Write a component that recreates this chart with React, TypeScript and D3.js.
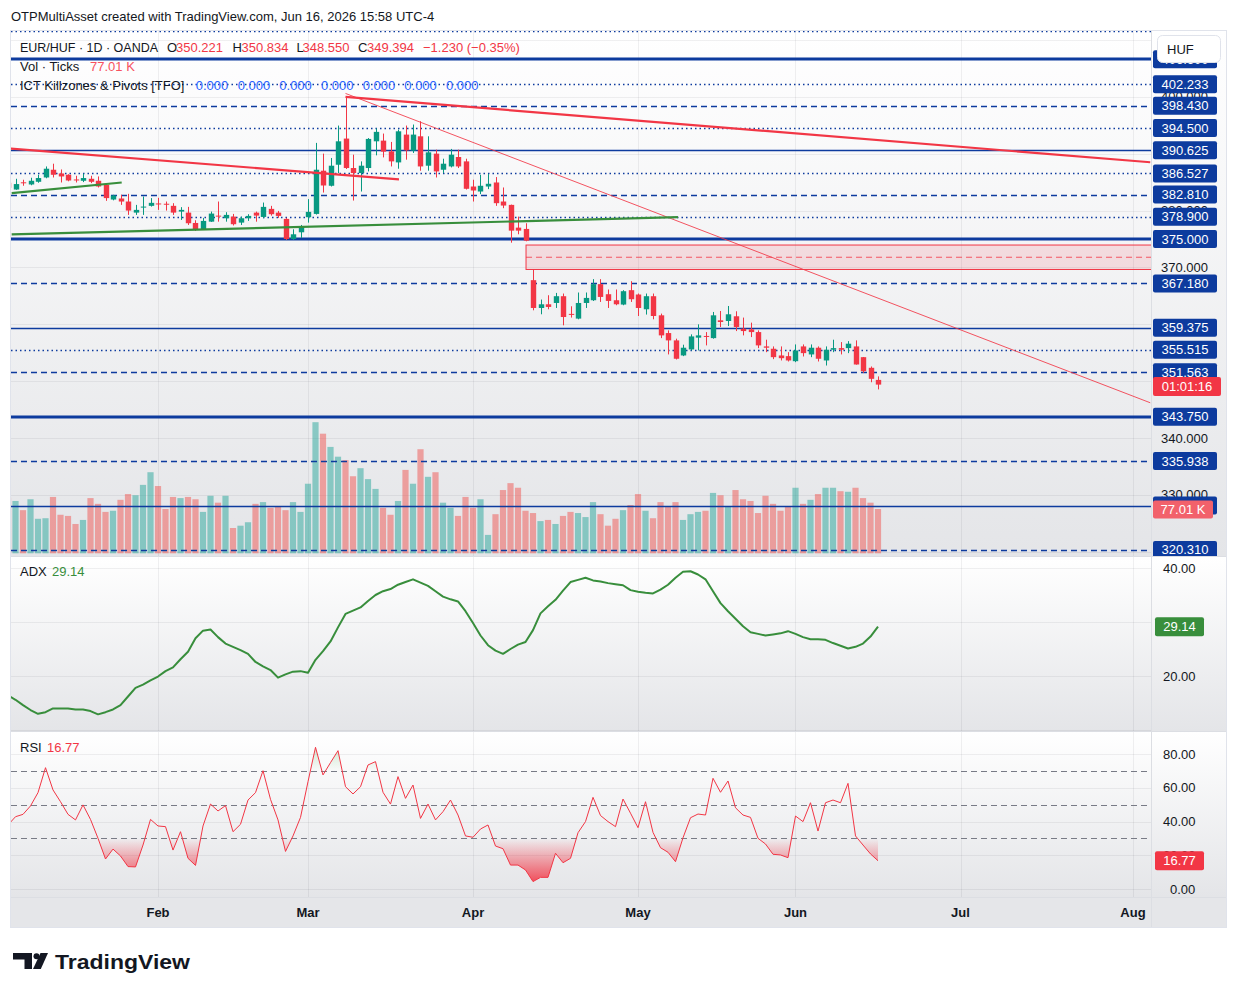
import React from 'react';
import * as d3 from 'd3';

// ---------------- DATA ----------------
const openP = [384.89,383.70,384.97,384.59,385.06,385.82,387.18,386.53,386.30,385.47,385.24,385.59,385.24,384.53,381.94,382.12,381.59,379.64,380.53,380.83,381.25,381.20,380.83,379.82,379.64,377.82,376.64,378.05,379.11,378.65,378.94,377.88,378.65,379.64,378.88,380.30,379.64,378.53,375.00,376.18,378.83,379.41,387.01,384.36,388.06,392.66,387.48,386.60,387.48,392.18,392.30,390.41,388.47,393.36,390.54,393.06,387.89,390.01,387.18,387.76,389.42,388.65,384.23,383.35,384.23,384.94,381.59,381.00,377.00,376.77,367.76,362.87,363.52,363.75,364.94,361.83,361.00,363.75,364.23,367.06,365.29,364.23,363.47,366.00,365.24,362.64,364.94,361.58,358.46,357.17,354.52,355.58,357.65,357.95,357.57,360.70,360.58,361.41,359.23,359.11,358.63,356.11,355.70,354.52,354.40,353.51,356.11,354.70,355.88,353.64,355.53,355.81,355.81,356.11,354.22,352.35,350.221];
const highP = [384.95,385.59,385.42,385.77,386.30,387.76,388.24,387.23,386.39,386.12,386.48,386.12,386.00,384.62,382.77,382.77,382.94,381.00,382.47,382.19,382.24,381.59,381.30,380.60,380.65,378.30,378.71,379.82,381.59,379.71,379.41,378.94,379.36,379.82,381.41,380.83,379.94,378.71,376.71,377.47,382.01,391.90,390.01,389.25,394.95,400.12,389.83,388.65,392.75,394.42,393.54,392.07,394.24,394.95,395.13,395.71,393.06,390.71,389.12,390.84,390.71,389.12,385.42,386.30,386.42,385.89,384.06,381.05,378.94,377.77,369.65,364.35,365.11,365.52,365.41,363.17,365.59,365.59,367.94,367.94,366.12,366.12,366.00,367.58,365.41,365.41,365.41,361.88,358.93,357.47,356.41,358.23,359.99,358.63,362.17,362.34,363.22,362.29,361.18,360.29,358.93,357.29,356.11,356.11,355.10,356.46,356.46,356.46,356.11,356.11,357.29,356.87,357.04,357.17,354.25,352.58,350.834];
const lowP = [383.90,383.65,384.36,384.45,384.89,385.68,385.82,384.94,385.15,384.94,385.01,384.83,384.06,381.71,381.80,381.00,379.24,379.24,379.24,380.70,380.12,380.00,379.24,378.35,377.47,376.41,376.59,378.00,378.05,378.05,377.38,377.47,378.18,378.05,378.65,379.11,378.71,374.82,374.82,375.18,377.88,379.30,383.17,384.23,386.60,387.31,381.76,383.35,386.88,389.71,389.35,387.76,387.36,388.95,390.13,387.01,387.01,385.82,386.60,387.59,387.48,383.70,381.59,382.89,383.77,380.83,380.42,374.35,375.83,374.60,362.46,361.76,362.64,362.87,359.82,361.18,360.88,362.87,364.10,363.93,362.87,363.35,363.35,363.93,361.46,361.71,360.88,357.57,354.70,353.81,354.40,355.40,355.40,356.29,357.47,359.52,359.69,358.81,358.05,357.75,355.81,355.10,353.87,353.64,353.46,353.34,354.34,354.22,353.46,352.75,355.10,354.70,354.93,352.90,351.47,349.81,348.55];
const closeP = [384.00,384.66,384.80,385.24,385.72,387.36,386.30,386.00,385.29,385.36,385.72,385.06,384.23,382.19,382.64,381.59,380.00,380.12,380.70,381.36,381.11,381.05,379.64,380.12,377.77,376.59,378.18,379.47,378.94,379.24,377.60,378.65,379.06,379.11,380.65,379.36,379.06,375.00,375.83,377.12,379.77,387.18,384.41,387.89,392.18,387.48,386.60,387.89,392.60,393.84,390.36,388.65,393.94,390.59,393.36,387.76,390.24,386.88,388.24,389.83,387.76,383.83,383.53,384.36,384.71,381.30,380.88,376.47,376.47,374.70,362.87,363.52,363.05,364.94,361.28,361.69,363.75,364.64,367.06,364.81,364.11,363.52,365.82,364.41,362.87,364.94,361.46,358.05,357.17,353.94,355.88,357.87,358.05,357.80,361.58,360.40,361.76,359.52,358.81,358.63,356.29,355.88,354.22,354.04,353.64,355.40,354.93,355.88,353.94,355.53,355.81,355.53,356.59,352.93,351.75,350.41,349.394];
const volumeK = [97,91,75,94,60,61,98,67,65,51,58,96,86,72,74,93,103,101,119,141,117,77,98,96,98,94,72,100,88,100,44,48,54,86,89,79,81,75,89,72,121,228,208,185,168,162,134,148,129,112,79,67,91,145,121,181,133,141,88,79,65,98,79,94,32,68,110,122,114,74,70,56,58,51,65,72,70,63,89,68,48,60,75,84,103,74,61,89,81,89,58,68,72,74,105,101,81,110,94,91,70,100,86,74,81,114,86,93,103,114,114,108,107,114,96,88,77.01];
const adxValues = [16.4,15.6,14.6,13.7,13.0,13.3,14.0,14.0,14.0,13.8,13.8,13.5,12.9,13.3,13.8,14.6,16.2,17.8,18.4,19.2,19.9,20.9,21.6,23.1,24.5,27.0,28.4,28.6,27.2,26.0,25.4,24.8,24.1,22.6,21.8,21.1,19.7,20.3,20.8,20.9,20.6,23.0,24.6,26.4,29.0,31.5,32.1,32.7,33.9,35.0,35.7,36.1,36.9,37.4,37.9,37.3,36.7,35.7,34.7,34.2,33.8,32.0,29.8,27.5,25.7,24.7,24.1,25.0,25.8,26.3,28.5,31.6,32.9,34.1,35.8,37.4,37.8,38.2,37.7,37.5,37.2,37.0,36.8,35.9,35.6,35.4,35.3,36.0,36.9,38.2,39.3,39.4,38.8,37.9,35.7,33.5,32.0,30.6,29.2,28.1,27.8,27.5,27.7,27.9,28.3,27.8,27.2,26.8,26.8,26.7,26.1,25.6,25.1,25.4,26.0,27.3,29.14];
const rsiValues = [38.0,42.9,44.3,49.3,57.2,72.0,58.8,51.8,44.3,41.0,49.9,41.3,30.1,17.8,23.7,19.6,13.3,13.1,26.1,41.3,37.4,37.0,23.1,34.0,18.2,14.0,37.4,50.4,46.3,49.5,34.0,38.4,52.8,57.2,70.2,53.2,41.0,22.3,31.5,42.5,63.7,84.1,67.7,75.0,82.1,60.7,56.4,60.7,73.6,75.6,57.4,50.4,66.7,53.8,61.7,41.9,50.4,41.0,45.9,52.8,43.9,31.5,30.7,35.6,38.0,25.5,23.9,14.2,14.2,11.3,4.4,6.9,6.9,21.2,15.6,18.2,33.4,40.0,54.4,43.6,40.0,37.0,53.4,45.0,36.4,51.8,33.6,24.5,21.8,16.2,30.4,42.3,44.5,43.9,65.7,57.4,64.1,48.2,43.9,42.5,30.1,26.7,20.6,20.2,18.6,43.3,40.0,51.2,34.4,51.2,52.8,51.2,62.7,31.5,26.1,20.8,16.77];

const monthLabels = ['Feb', 'Mar', 'Apr', 'May', 'Jun', 'Jul', 'Aug'];
const priceTicks = [320, 330, 340, 350, 360, 370, 380, 390, 400, 410];
const adxTicks = [20, 40];
const adxGrid = [10, 20, 30, 40];
const rsiTicks = [0, 20, 40, 60, 80];
const rsiBands = [30, 50, 70];

const pivotLevels = [411.5, 406.6, 402.233, 398.43, 394.5, 390.625, 386.527, 382.81, 378.9, 375, 367.18, 359.375, 355.515, 351.563, 343.75, 335.938, 328.125, 320.31];
const pivotStyles = ['dot', 'thick', 'dot', 'dash', 'dot', 'thin', 'dot', 'dash', 'dot', 'thick', 'dash', 'thin', 'dot', 'dash', 'thick', 'dash', 'thin', 'dash'];
const pivotLabels = [406.6, 402.233, 398.43, 394.5, 390.625, 386.527, 382.81, 378.9, 375, 367.18, 359.375, 355.515, 351.563, 343.75, 335.938, 328.125, 320.31];

// drawings: [barIndex, price]
const redTrendThin = [[45, 400.6], [152.3, 346.2]];
const redTrendThick = [[45, 400.0], [152.3, 388.5]];
const redTrendLeft = [[0.27, 390.9], [52.13, 385.5]];
const greenTrendShort = [[0.49, 383.07], [15.16, 384.94]];
const greenTrendLong = [[0.49, 375.83], [89.33, 378.83]];
const fvgZone = { startIndex: 69.07, top: 373.94, bottom: 369.64 };

const legendOHLC = [['O', '350.221'], ['H', '350.834'], ['L', '348.550'], ['C', '349.394']];

// ---------------- LAYOUT ----------------
const FONT = '"Liberation Sans", Arial, sans-serif';
const L = 11, R = 1151, AX = 1151, RIGHT = 1226;
const mainTop = 31, mainBottom = 556;
const adxTop = 557, adxBottom = 731;
const rsiTop = 732, rsiBottom = 897;
const timeBottom = 927;
const BLUE = '#0d3b9e';
const RED = '#f23645';
const GREEN = '#089981';
const ADXC = '#388e3c';

const sessionDays = d3.timeDay
  .range(new Date(2026, 0, 5), new Date(2026, 8, 1))
  .filter((d) => d.getDay() % 6 !== 0);
const monthTicks = monthLabels.map((lab, k) => ({
  lab,
  idx: sessionDays.findIndex((d) => d.getMonth() === k + 1),
}));

const x = d3.scaleLinear().domain([0, 150]).range([8, 1133]);
const yP = d3.scaleLinear().domain([343.75, 375]).range([416.7, 239]);
const yV = d3.scaleLinear().domain([0, 100]).range([553.3, 553.3 - 57.5]);
const yA = d3.scaleLinear().domain([20, 40]).range([676, 568]);
const yR = d3.scaleLinear().domain([0, 80]).range([889, 754.2]);

const px = (i: number) => Math.round(x(i)) + 0.5;

function PriceLabel({ y, text, fill, x0 = 1153, w = 64, h = 18 }: any) {
  return (
    <g>
      <rect x={x0} y={y - h / 2} width={w} height={h} rx={2} fill={fill} />
      <text x={x0 + w / 2} y={y + 4.5} textAnchor="middle" fill="#ffffff" fontSize={13} fontFamily={FONT}>{text}</text>
    </g>
  );
}

export default function App() {
  const adxLine = d3.line<number>().x((_, i) => x(i)).y((d) => yA(d));
  const rsiLine = d3.line<number>().x((_, i) => x(i)).y((d) => yR(d));
  const rsiLowArea = d3.area<number>().x((_, i) => x(i)).y0(yR(30)).y1((d) => yR(d));
  const rsiHighArea = d3.area<number>().x((_, i) => x(i)).y0(yR(70)).y1((d) => yR(d));
  const seg = (pts: number[][]) => d3.line<number[]>().x((p) => x(p[0])).y((p) => yP(p[1]))(pts) as string;

  const pivotStroke = (s: string) => {
    if (s === 'thick') return { w: 3, dash: undefined };
    if (s === 'thin') return { w: 1.5, dash: undefined };
    if (s === 'dash') return { w: 1.5, dash: '6 4' };
    return { w: 1.5, dash: '1.5 3' };
  };

  const paneBg = (id: string, y0: number, y1: number) => (
    <linearGradient id={id} x1={0} y1={y0} x2={0} y2={y1} gradientUnits="userSpaceOnUse">
      <stop offset="0" stopColor="#ffffff" />
      <stop offset="1" stopColor="#e4e5e8" />
    </linearGradient>
  );

  return (
    <svg width={1237} height={996} style={{ position: 'absolute', left: 0, top: 0, background: '#ffffff' }} fontFamily={FONT}>
      <defs>
        {paneBg('gMain', mainTop, mainBottom)}
        {paneBg('gAdx', adxTop, adxBottom)}
        {paneBg('gRsi', rsiTop, rsiBottom)}
        <linearGradient id="gRsiLow" x1={0} y1={yR(30)} x2={0} y2={yR(0)} gradientUnits="userSpaceOnUse">
          <stop offset="0" stopColor={RED} stopOpacity={0} />
          <stop offset="1" stopColor={RED} stopOpacity={1} />
        </linearGradient>
        <linearGradient id="gRsiHigh" x1={0} y1={yR(70)} x2={0} y2={yR(100)} gradientUnits="userSpaceOnUse">
          <stop offset="0" stopColor="#4caf50" stopOpacity={0} />
          <stop offset="1" stopColor="#4caf50" stopOpacity={0.55} />
        </linearGradient>
        <clipPath id="cMain"><rect x={L} y={mainTop} width={R - L} height={mainBottom - mainTop} /></clipPath>
        <clipPath id="cMainAxis"><rect x={AX} y={mainTop} width={RIGHT - AX} height={mainBottom - mainTop} /></clipPath>
        <clipPath id="cAdx"><rect x={L} y={adxTop} width={R - L} height={adxBottom - adxTop} /></clipPath>
        <clipPath id="cRsi"><rect x={L} y={rsiTop} width={R - L} height={rsiBottom - rsiTop} /></clipPath>
        <clipPath id="cRsiLow"><rect x={L} y={yR(30)} width={R - L} height={rsiBottom - yR(30)} /></clipPath>
        <clipPath id="cRsiHigh"><rect x={L} y={rsiTop} width={R - L} height={yR(70) - rsiTop} /></clipPath>
      </defs>

      {/* caption */}
      <text x={11} y={21} fontSize={13} fill="#131722">OTPMultiAsset created with TradingView.com, Jun 16, 2026 15:58 UTC-4</text>

      {/* pane backgrounds */}
      <rect x={10} y={mainTop} width={RIGHT - 10} height={mainBottom - mainTop} fill="url(#gMain)" />
      <rect x={10} y={adxTop} width={RIGHT - 10} height={adxBottom - adxTop} fill="url(#gAdx)" />
      <rect x={10} y={rsiTop} width={RIGHT - 10} height={rsiBottom - rsiTop} fill="url(#gRsi)" />
      <rect x={10} y={rsiBottom} width={RIGHT - 10} height={timeBottom - rsiBottom} fill="#e5e6e9" />

      {/* grids */}
      <g stroke="rgba(42,46,57,0.07)" strokeWidth={1}>
        {priceTicks.map((v) => (
          <line key={'pg' + v} x1={L} x2={R} y1={Math.round(yP(v)) + 0.5} y2={Math.round(yP(v)) + 0.5} />
        ))}
        {adxGrid.map((v) => (
          <line key={'ag' + v} x1={L} x2={R} y1={Math.round(yA(v)) + 0.5} y2={Math.round(yA(v)) + 0.5} />
        ))}
        {rsiTicks.map((v) => (
          <line key={'rg' + v} x1={L} x2={R} y1={Math.round(yR(v)) + 0.5} y2={Math.round(yR(v)) + 0.5} />
        ))}
        {monthTicks.map((m) => (
          <g key={'vg' + m.lab}>
            <line x1={px(m.idx)} x2={px(m.idx)} y1={mainTop} y2={mainBottom} />
            <line x1={px(m.idx)} x2={px(m.idx)} y1={adxTop} y2={adxBottom} />
            <line x1={px(m.idx)} x2={px(m.idx)} y1={rsiTop} y2={rsiBottom} />
          </g>
        ))}
      </g>

      {/* MAIN PANE */}
      <g clipPath="url(#cMain)">
        {/* volume */}
        {volumeK.map((v, i) => {
          const up = closeP[i] >= openP[i];
          return (
            <rect key={'v' + i} x={x(i) - 3.1} y={yV(v)} width={6.2} height={yV(0) - yV(v)}
              fill={up ? 'rgba(38,166,154,0.5)' : 'rgba(239,83,80,0.5)'} />
          );
        })}
        {/* FVG zone */}
        <rect x={x(fvgZone.startIndex)} y={yP(fvgZone.top)} width={R - x(fvgZone.startIndex) + 5}
          height={yP(fvgZone.bottom) - yP(fvgZone.top)} fill="rgba(242,54,69,0.13)" stroke={RED} strokeWidth={1} />
        <line x1={x(fvgZone.startIndex)} x2={R} y1={yP((fvgZone.top + fvgZone.bottom) / 2)} y2={yP((fvgZone.top + fvgZone.bottom) / 2)}
          stroke={RED} strokeWidth={1} strokeDasharray="6 4" strokeOpacity={0.8} />
        {/* pivot lines */}
        {pivotLevels.map((v, k) => {
          const st = pivotStroke(pivotStyles[k]);
          const yy = Math.round(yP(v)) + (st.w === 3 ? 0 : 0.5);
          return <line key={'pv' + k} x1={L} x2={R} y1={yy} y2={yy} stroke={BLUE} strokeWidth={st.w} strokeDasharray={st.dash} />;
        })}
        {/* candles */}
        {openP.map((o, i) => {
          const c = closeP[i];
          const up = c >= o;
          const col = up ? GREEN : RED;
          const cx = px(i);
          const yt = yP(Math.max(o, c));
          const yb = yP(Math.min(o, c));
          return (
            <g key={'c' + i}>
              <line x1={cx} x2={cx} y1={yP(highP[i])} y2={yP(lowP[i])} stroke={col} strokeWidth={1} />
              <rect x={cx - 2.7} y={yt} width={5.4} height={Math.max(1, yb - yt)} fill={col} />
            </g>
          );
        })}
        {/* drawings */}
        <path d={seg(redTrendThin)} stroke={RED} strokeWidth={1} strokeOpacity={0.85} fill="none" />
        <path d={seg(redTrendThick)} stroke={RED} strokeWidth={2.2} fill="none" />
        <path d={seg(redTrendLeft)} stroke={RED} strokeWidth={2.2} fill="none" />
        <path d={seg(greenTrendShort)} stroke={ADXC} strokeWidth={2.2} fill="none" />
        <path d={seg(greenTrendLong)} stroke={ADXC} strokeWidth={2.2} fill="none" />
      </g>

      {/* main legend */}
      <g fontSize={13}>
        <text x={20} y={51.5} fill="#131722" textLength={138} lengthAdjust="spacingAndGlyphs">EUR/HUF · 1D · OANDA</text>
        {legendOHLC.map((p, k) => {
          const xs = [[167, 176], [232.5, 241.5], [296.5, 302.5], [358, 367]][k];
          return (
            <g key={'lg' + k}>
              <text x={xs[0]} y={51.5} fill="#131722">{p[0]}</text>
              <text x={xs[1]} y={51.5} fill={RED}>{p[1]}</text>
            </g>
          );
        })}
        <text x={423} y={51.5} fill={RED}>−1.230 (−0.35%)</text>
        <text x={20} y={70.5} fill="#131722">Vol · Ticks</text>
        <text x={90} y={70.5} fill="#f7525f">77.01 K</text>
        <text x={20} y={89.5} fill="#131722">ICT Killzones &amp; Pivots [TFO]</text>
        {[195.7, 237.7, 279.3, 321, 362.7, 404.3, 446].map((xx, k) => (
          <text key={'z' + k} x={xx} y={89.5} fill="#2962ff">0.000</text>
        ))}
      </g>

      {/* ADX PANE */}
      <g clipPath="url(#cAdx)">
        <path d={adxLine(adxValues) as string} fill="none" stroke={ADXC} strokeWidth={2} strokeLinejoin="round" />
      </g>
      <text x={20} y={576} fontSize={13} fill="#131722">ADX</text>
      <text x={52} y={576} fontSize={13} fill={ADXC}>29.14</text>

      {/* RSI PANE */}
      <g clipPath="url(#cRsi)">
        {rsiBands.map((v) => (
          <line key={'rb' + v} x1={L} x2={R} y1={Math.round(yR(v)) + 0.5} y2={Math.round(yR(v)) + 0.5}
            stroke="#787b86" strokeWidth={1} strokeDasharray="6 4" />
        ))}
        <g clipPath="url(#cRsiLow)">
          <path d={rsiLowArea(rsiValues) as string} fill="url(#gRsiLow)" />
        </g>
        <g clipPath="url(#cRsiHigh)">
          <path d={rsiHighArea(rsiValues) as string} fill="url(#gRsiHigh)" />
        </g>
        <path d={rsiLine(rsiValues) as string} fill="none" stroke={RED} strokeWidth={1} />
      </g>
      <text x={20} y={752} fontSize={13} fill="#131722">RSI</text>
      <text x={47} y={752} fontSize={13} fill={RED}>16.77</text>

      {/* separators & frame */}
      <g stroke="#dcdee3" strokeWidth={1}>
        <line x1={10} x2={RIGHT} y1={mainBottom + 0.5} y2={mainBottom + 0.5} />
        <line x1={10} x2={RIGHT} y1={adxBottom + 0.5} y2={adxBottom + 0.5} />
        <line x1={10} x2={RIGHT} y1={rsiBottom + 0.5} y2={rsiBottom + 0.5} />
        <line x1={AX + 0.5} x2={AX + 0.5} y1={mainTop} y2={timeBottom} />
      </g>

      {/* PRICE AXIS */}
      <g clipPath="url(#cMainAxis)">
        {priceTicks.map((v) => (
          <text key={'pt' + v} x={1161} y={yP(v) + 4.5} fontSize={13} fill="#131722">{v.toFixed(3)}</text>
        ))}
        {pivotLabels.map((v) => (
          <PriceLabel key={'pl' + v} y={yP(v)} text={v.toFixed(3)} fill={BLUE} />
        ))}
        <PriceLabel y={386.5} text="01:01:16" fill={RED} w={68} h={19} />
        <PriceLabel y={509.5} text="77.01 K" fill="#f2616b" w={60} />
      </g>
      <rect x={1157.5} y={35.5} width={63} height={27} rx={5} fill="#ffffff" stroke="#e0e3eb" />
      <text x={1167} y={53.5} fontSize={13} fill="#131722">HUF</text>

      {/* ADX axis */}
      {adxTicks.map((v) => (
        <text key={'at' + v} x={1163} y={yA(v) + 4.5} fontSize={13} fill="#131722">{v.toFixed(2)}</text>
      ))}
      <PriceLabel y={yA(29.14)} text="29.14" fill={ADXC} x0={1155} w={49} h={19} />

      {/* RSI axis */}
      {rsiTicks.map((v) => (
        <text key={'rt' + v} x={v === 0 ? 1170 : 1163} y={yR(v) + 4.5} fontSize={13} fill="#131722">{v.toFixed(2)}</text>
      ))}
      <PriceLabel y={yR(16.77)} text="16.77" fill={RED} x0={1155} w={49} h={19} />

      {/* TIME AXIS */}
      {monthTicks.map((m) => (
        <text key={'mt' + m.lab} x={x(m.idx)} y={917} textAnchor="middle" fontSize={13} fontWeight="bold" fill="#131722">{m.lab}</text>
      ))}

      <rect x={10.5} y={30.5} width={RIGHT - 10} height={timeBottom - 30} fill="none" stroke="#e0e3eb" />

      {/* logo */}
      <g fill="#131722">
        <path d="M13,953 h19 v16 h-7.5 v-9.5 h-11.5 z" />
        <circle cx={36.5} cy={956.2} r={3} />
        <path d="M40.5,953 h7.5 l-7.2,16 h-7.8 z" />
        <text x={55} y={969} fontSize={21} fontWeight="bold" textLength={135} lengthAdjust="spacingAndGlyphs">TradingView</text>
      </g>
    </svg>
  );
}
